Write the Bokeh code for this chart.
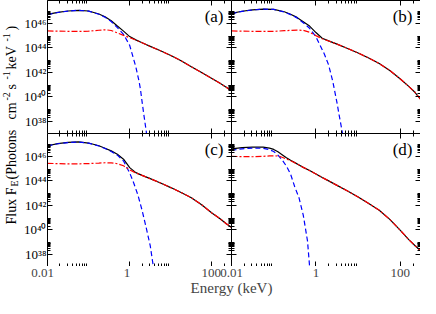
import math
from bokeh.plotting import figure
from bokeh.models import Range1d, LogAxis, FixedTicker, Label, CustomJSTickFormatter, ColumnDataSource
from bokeh.layouts import row, column
from bokeh.embed import file_html
from bokeh.resources import INLINE

FONT = "Liberation Serif"

# ---------------- data (energies in keV, fluxes as log10 of F_E) ----------------
E_grid = [0.01, 0.0178, 0.0316, 0.0562, 0.1, 0.178, 0.251, 0.355, 0.501, 0.708, 1.0, 1.41,
          2.0, 3.16, 5.62, 10.0, 17.8, 31.6, 56.2, 100.0, 158.0, 224.0, 300.0]

# panel (a)
a_nt = [45.38, 45.37, 45.35, 45.34, 45.36, 45.44, 45.48, 45.42, 45.22, 45.02, 44.83, 44.64,
        44.42, 44.12, 43.76, 43.38, 42.95, 42.45, 41.98, 41.5, 41.1, 40.78, 40.48]
a_tot = [46.73, 46.9, 47.01, 47.07, 47.01, 46.77, 46.54, 46.22, 45.79, 45.37, 44.92, 44.65,
         44.42, 44.12, 43.76, 43.38, 42.95, 42.45, 41.98, 41.5, 41.1, 40.78, 40.48]
a_bb_E = [0.01, 0.0178, 0.0316, 0.0562, 0.1, 0.178, 0.251, 0.355, 0.501, 0.708, 1.0, 1.17,
          1.41, 1.68, 1.83, 2.0, 2.24, 2.57]
a_bb = [46.72, 46.89, 47.0, 47.07, 47.0, 46.75, 46.5, 46.15, 45.65, 45.1, 44.2, 43.4,
        42.45, 41.3, 40.6, 39.6, 38.4, 37.0]

# panel (b)
b_nt = [45.38, 45.37, 45.35, 45.34, 45.35, 45.4, 45.43, 45.45, 45.43, 45.28, 45.0, 44.74,
        44.56, 44.3, 43.95, 43.58, 43.17, 42.72, 42.15, 41.45, 40.85, 40.35, 39.8]
b_tot = [46.82, 46.99, 47.11, 47.17, 47.15, 46.95, 46.75, 46.49, 46.14, 45.78, 45.25, 44.79,
         44.57, 44.3, 43.95, 43.58, 43.17, 42.72, 42.15, 41.45, 40.85, 40.35, 39.8]
b_bb_E = [0.01, 0.0178, 0.0316, 0.0562, 0.1, 0.178, 0.251, 0.355, 0.501, 0.708, 1.0, 1.26,
          1.58, 2.0, 2.51, 3.16, 3.55, 4.27]
b_bb = [46.8, 46.98, 47.1, 47.16, 47.14, 46.93, 46.72, 46.45, 46.05, 45.6, 44.9, 44.2,
        43.5, 42.6, 41.25, 39.5, 38.5, 37.0]

# panel (c)
c_nt = [45.43, 45.41, 45.39, 45.39, 45.41, 45.45, 45.48, 45.47, 45.4, 45.23, 44.9, 44.65,
        44.45, 44.18, 43.83, 43.45, 43.05, 42.62, 42.05, 41.38, 40.9, 40.5, 40.2]
c_tot = [46.87, 47.04, 47.14, 47.18, 47.09, 46.87, 46.67, 46.45, 46.18, 45.77, 45.08, 44.67,
         44.45, 44.18, 43.83, 43.45, 43.05, 42.62, 42.05, 41.38, 40.9, 40.5, 40.2]
c_bb_E = [0.01, 0.0178, 0.0316, 0.0562, 0.1, 0.178, 0.251, 0.355, 0.501, 0.708, 1.0, 1.26,
          1.58, 2.0, 2.51, 3.16, 3.76]
c_bb = [46.86, 47.03, 47.13, 47.17, 47.08, 46.85, 46.64, 46.4, 46.1, 45.62, 44.65, 43.8,
        42.85, 41.6, 40.2, 38.7, 37.0]

# panel (d)
d_E = [0.01, 0.0178, 0.0316, 0.0562, 0.0794, 0.1, 0.126, 0.158, 0.2, 0.251, 0.316, 0.398,
       0.501, 0.708, 1.0, 1.41, 2.0, 3.16, 5.62, 10.0, 17.8, 31.6, 56.2, 100.0, 158.0, 224.0, 300.0]
d_nt = [46.0, 45.98, 45.97, 46.0, 46.04, 46.05, 46.03, 45.93, 45.78, 45.65, 45.48, 45.3,
        45.1, 44.84, 44.56, 44.27, 44.0, 43.63, 43.17, 42.68, 42.15, 41.6, 40.85, 39.95, 39.2, 38.7, 38.3]
d_tot = [46.62, 46.71, 46.76, 46.75, 46.67, 46.57, 46.37, 46.14, 45.88, 45.68, 45.49, 45.3,
         45.1, 44.84, 44.56, 44.27, 44.0, 43.63, 43.17, 42.68, 42.15, 41.6, 40.85, 39.95, 39.2, 38.7, 38.3]
d_bb_E = [0.01, 0.0178, 0.0316, 0.0562, 0.0794, 0.1, 0.126, 0.158, 0.2, 0.251, 0.316, 0.398,
          0.501, 0.631, 0.708]
d_bb = [46.5, 46.62, 46.68, 46.66, 46.55, 46.4, 46.1, 45.72, 45.2, 44.55, 43.5, 42.6,
        41.2, 39.1, 37.0]

panel_names = ["(a)", "(b)", "(c)", "(d)"]
x_ticks = [0.01, 1.0, 100.0]
x_tick_labels = ["0.01", "1", "100"]
y_ticks = [1e38, 1e40, 1e42, 1e44, 1e46]

XMIN, XMAX = 0.01, 300.0
YMIN, YMAX = 1e37, 10 ** 47.87

x_minor = [k * t for t in x_ticks for k in range(2, 10) if k * t <= XMAX]
y_minor = [k * t for t in y_ticks for k in range(2, 10)]

FW, FH = 189, 133     # frame size of each panel
LB = 22               # left border (y tick labels)
YLW = 20              # width of y-label strip
TOTAL_H = 298
XLH = TOTAL_H - 2 * FH

SUP = {"0": "\u2070", "1": "\u00b9", "2": "\u00b2", "3": "\u00b3", "4": "\u2074",
       "5": "\u2075", "6": "\u2076", "7": "\u2077", "8": "\u2078", "9": "\u2079"}
ylab_js = ("const sup = " + str(SUP).replace("'", '"') + ";"
           "const e = Math.round(Math.log10(tick)).toString();"
           "return '10' + e.split('').map(c => sup[c]).join('');")


def make_axis(major, minor, labelled=False, formatter=None):
    ax = LogAxis(ticker=FixedTicker(ticks=major, minor_ticks=minor))
    ax.major_tick_in = 5
    ax.major_tick_out = 0
    ax.minor_tick_in = 3
    ax.minor_tick_out = 0
    ax.axis_line_color = "black"
    ax.major_tick_line_color = "black"
    ax.minor_tick_line_color = "black"
    if labelled:
        ax.formatter = formatter
        ax.major_label_text_font = FONT
        ax.major_label_text_font_size = "13px"
        ax.major_label_text_color = "black"
        ax.major_label_standoff = 1
    else:
        ax.formatter = CustomJSTickFormatter(code="return '';")
        ax.major_label_text_font_size = "0px"
        ax.major_label_standoff = 0
    return ax


def make_panel(name, E_nt, nt, tot, E_bb, bb, left):
    p = figure(width=FW + (LB if left else 0), height=FH,
               x_axis_type="log", y_axis_type="log",
               x_axis_location=None, y_axis_location=None,
               x_range=Range1d(XMIN, XMAX), y_range=Range1d(YMIN, YMAX),
               toolbar_location=None, output_backend="svg", title=None)
    p.min_border = 0
    p.min_border_left = LB if left else 0
    p.min_border_right = 0
    p.min_border_top = 0
    p.min_border_bottom = 0
    p.grid.visible = False
    p.outline_line_color = None
    p.background_fill_color = "white"
    p.border_fill_color = "white"

    if left:
        p.add_layout(make_axis(y_ticks, y_minor, True, CustomJSTickFormatter(code=ylab_js)), "left")
    else:
        p.add_layout(make_axis(y_ticks, y_minor), "left")
    p.add_layout(make_axis(y_ticks, y_minor), "right")
    p.add_layout(make_axis(x_ticks, x_minor), "below")
    p.add_layout(make_axis(x_ticks, x_minor), "above")

    s_tot = ColumnDataSource(dict(x=E_nt, y=[10 ** v for v in tot]))
    s_nt = ColumnDataSource(dict(x=E_nt, y=[10 ** v for v in nt]))
    s_bb = ColumnDataSource(dict(x=E_bb, y=[10 ** v for v in bb]))
    p.line("x", "y", source=s_tot, line_color="black", line_width=1.2)
    p.line("x", "y", source=s_bb, line_color="#0000ff", line_width=1.2, line_dash="5 3")
    p.line("x", "y", source=s_nt, line_color="#ff0000", line_width=1.2, line_dash="6 2 2 2")

    p.add_layout(Label(x=XMAX, y=YMAX, x_offset=-8, y_offset=-6, text=name,
                       text_align="right", text_baseline="top",
                       text_font=FONT, text_font_size="17px", text_color="black"))
    return p


pa = make_panel(panel_names[0], E_grid, a_nt, a_tot, a_bb_E, a_bb, True)
pb = make_panel(panel_names[1], E_grid, b_nt, b_tot, b_bb_E, b_bb, False)
pc = make_panel(panel_names[2], E_grid, c_nt, c_tot, c_bb_E, c_bb, True)
pd = make_panel(panel_names[3], d_E, d_nt, d_tot, d_bb_E, d_bb, False)

# ---- y label strip (rotated, built from pieces for sub/superscripts) ----
ylab = figure(width=YLW, height=TOTAL_H, x_range=Range1d(0, YLW), y_range=Range1d(0, TOTAL_H),
              x_axis_location=None, y_axis_location=None, toolbar_location=None,
              output_backend="svg", title=None)
ylab.min_border = 0
ylab.grid.visible = False
ylab.outline_line_color = None
# (text, font px, start (page y), text centre line (page x))
pieces = [("Flux F", 14, 232, 18.5), ("E", 10, 194, 22), ("(Photons", 14, 187, 18.5),
          ("cm", 14, 127, 18.5), ("-2", 10, 108, 13.5), ("s", 14, 97, 18.5), ("-1", 10, 87, 13.5),
          ("keV", 14, 77, 18.5), ("-1", 10, 49, 13.5), (")", 14, 38, 18.5)]
for txt, fs, py, px in pieces:
    ylab.add_layout(Label(x=px - 8, y=(TOTAL_H + 8) - py, text=txt, angle=math.pi / 2,
                          text_align="left", text_baseline="middle",
                          text_font=FONT, text_font_size=f"{fs}px", text_color="black"))

# ---- x tick labels + axis label strip spanning both bottom panels ----
ratio = XMAX / XMIN
xl_pos = x_ticks + [t * ratio for t in x_ticks]
xl_lab = x_tick_labels + x_tick_labels
xlab = figure(width=LB + 2 * FW, height=XLH, x_axis_type="log",
              x_axis_location=None, y_axis_location=None,
              x_range=Range1d(XMIN, XMAX * ratio), y_range=Range1d(0, 1),
              toolbar_location=None, output_backend="svg", title=None)
xlab.min_border = 0
xlab.min_border_left = LB
xlab.grid.visible = False
xlab.outline_line_color = None
xax = LogAxis(ticker=FixedTicker(ticks=xl_pos, minor_ticks=[]),
              formatter=CustomJSTickFormatter(args=dict(pos=xl_pos, labs=xl_lab), code=(
                  "for (let i = 0; i < pos.length; i++) {"
                  "  if (Math.abs(Math.log10(tick / pos[i])) < 1e-6) return labs[i]; }"
                  "return '';")))
xax.major_tick_in = 0
xax.major_tick_out = 0
xax.minor_tick_in = 0
xax.minor_tick_out = 0
xax.axis_line_color = None
xax.major_label_text_font = FONT
xax.major_label_text_font_size = "13px"
xax.major_label_standoff = 1
xax.axis_label = "Energy (keV)"
xax.axis_label_text_font = FONT
xax.axis_label_text_font_size = "15px"
xax.axis_label_text_font_style = "normal"
xax.axis_label_standoff = 0
xlab.add_layout(xax, "below")

layout = row(ylab, column(row(pa, pb), row(pc, pd), xlab))

open("out.html", "w").write(file_html(layout, INLINE))
